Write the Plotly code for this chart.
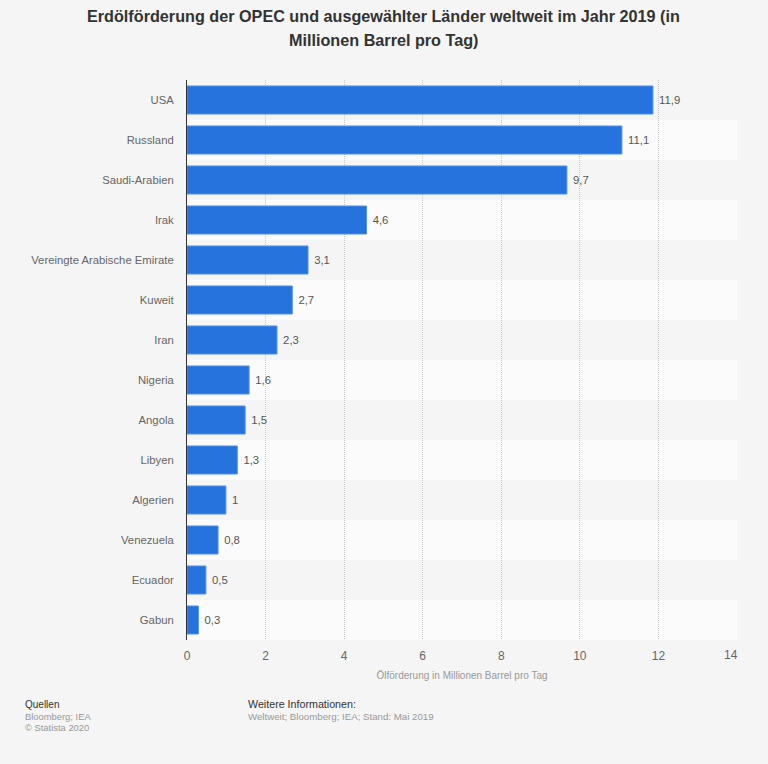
import plotly.graph_objects as go

countries = [
    "USA", "Russland", "Saudi-Arabien", "Irak", "Vereingte Arabische Emirate",
    "Kuweit", "Iran", "Nigeria", "Angola", "Libyen", "Algerien", "Venezuela",
    "Ecuador", "Gabun",
]
# bar lengths, the printed labels are rounded
production = [11.86, 11.07, 9.67, 4.57, 3.08, 2.68, 2.29, 1.58, 1.48, 1.28, 0.99, 0.79, 0.48, 0.29]
value_labels = ["11,9", "11,1", "9,7", "4,6", "3,1", "2,7", "2,3", "1,6", "1,5", "1,3", "1", "0,8", "0,5", "0,3"]
x_ticks = [0, 2, 4, 6, 8, 10, 12, 14]
# last label is drawn separately, it stays inside the plot edge
x_tick_labels = ["0", "2", "4", "6", "8", "10", "12", ""]

FONT = "Liberation Sans"
WIDTH, HEIGHT = 768, 764
LEFT, RIGHT, TOP, BOTTOM = 186.5, 737, 80, 640

fig = go.Figure(
    go.Bar(
        x=production,
        y=countries,
        orientation="h",
        width=0.7,
        marker=dict(color="#2673dd", line=dict(color="#4f8fe6", width=1)),
        # leading nbsp widens the gap between bar end and label
        text=["\u00a0" + label for label in value_labels],
        textposition="outside",
        cliponaxis=False,
        textfont=dict(family=FONT, size=11.3, color="#555555"),
    )
)

# alternating row bands behind the bars
for i in range(1, len(countries), 2):
    fig.add_shape(
        type="rect", xref="x", yref="y", layer="below", line_width=0,
        x0=0, x1=14, y0=i - 0.5, y1=i + 0.5, fillcolor="#fbfbfb",
    )

fig.update_layout(
    width=WIDTH,
    height=HEIGHT,
    paper_bgcolor="#f5f5f5",
    plot_bgcolor="#f5f5f5",
    showlegend=False,
    bargap=0.3,
    font=dict(family=FONT, size=12, color="#666666"),
    margin=dict(l=LEFT, r=WIDTH - RIGHT, t=TOP, b=HEIGHT - BOTTOM, pad=0),
    xaxis=dict(
        range=[0, 14],
        tickvals=x_ticks,
        ticktext=x_tick_labels,
        ticks="outside",
        ticklen=5,
        tickcolor="rgba(0,0,0,0)",
        showline=False,
        zeroline=False,
        showgrid=True,
        gridcolor="#c8c8c8",
        griddash="1px,1px",
        gridwidth=1,
        tickfont=dict(family=FONT, size=12, color="#666666"),
        title=dict(
            text="Ölförderung in Millionen Barrel pro Tag",
            font=dict(family=FONT, size=10, color="#999999"),
            standoff=9,
        ),
    ),
    yaxis=dict(
        autorange="reversed",
        ticks="",
        showline=True,
        linecolor="#333333",
        linewidth=1,
        showgrid=False,
        ticklabelstandoff=10,
        tickfont=dict(family=FONT, size=11.3, color="#666666"),
    ),
)

fig.add_annotation(
    text="14", xref="x", yref="paper", showarrow=False,
    x=14, y=(BOTTOM - 655) / (BOTTOM - TOP),
    xanchor="right", yanchor="middle", xshift=3,
    font=dict(family=FONT, size=12, color="#666666"),
)

# (x px, y px, text, colour, size)
page_texts = [
    (22, 704, "Quellen", "#333333", 10),
    (22, 716, "Bloomberg; IEA", "#999999", 9.4),
    (22, 728, "© Statista 2020", "#999999", 9.4),
    (245.5, 704, "Weitere Informationen:", "#333333", 10.7),
    (245.5, 716, "Weltweit; Bloomberg; IEA; Stand: Mai 2019", "#999999", 9.7),
]
for px_x, px_y, text, color, size in page_texts:
    fig.add_annotation(
        text=text, xref="paper", yref="paper", showarrow=False,
        x=(px_x - LEFT) / (RIGHT - LEFT),
        y=(BOTTOM - px_y) / (BOTTOM - TOP),
        xanchor="left", yanchor="middle",
        font=dict(family=FONT, size=size, color=color),
    )

# title lines sit further apart than a plotly <br> allows
title_lines = [
    (16, "Erdölförderung der OPEC und ausgewählter Länder weltweit im Jahr 2019 (in"),
    (40, "Millionen Barrel pro Tag)"),
]
for px_y, line in title_lines:
    fig.add_annotation(
        text=f"<b>{line}</b>", xref="paper", yref="paper", showarrow=False,
        x=(WIDTH / 2 - 1 - LEFT) / (RIGHT - LEFT),
        y=(BOTTOM - px_y) / (BOTTOM - TOP),
        xanchor="center", yanchor="middle",
        font=dict(family=FONT, size=16.2, color="#333333"),
    )

# page has an 8px default body margin otherwise
fig.write_html(
    "out.html",
    config={"displayModeBar": False},
    post_script="document.body.style.margin='0';document.body.style.background='#f5f5f5';",
)
